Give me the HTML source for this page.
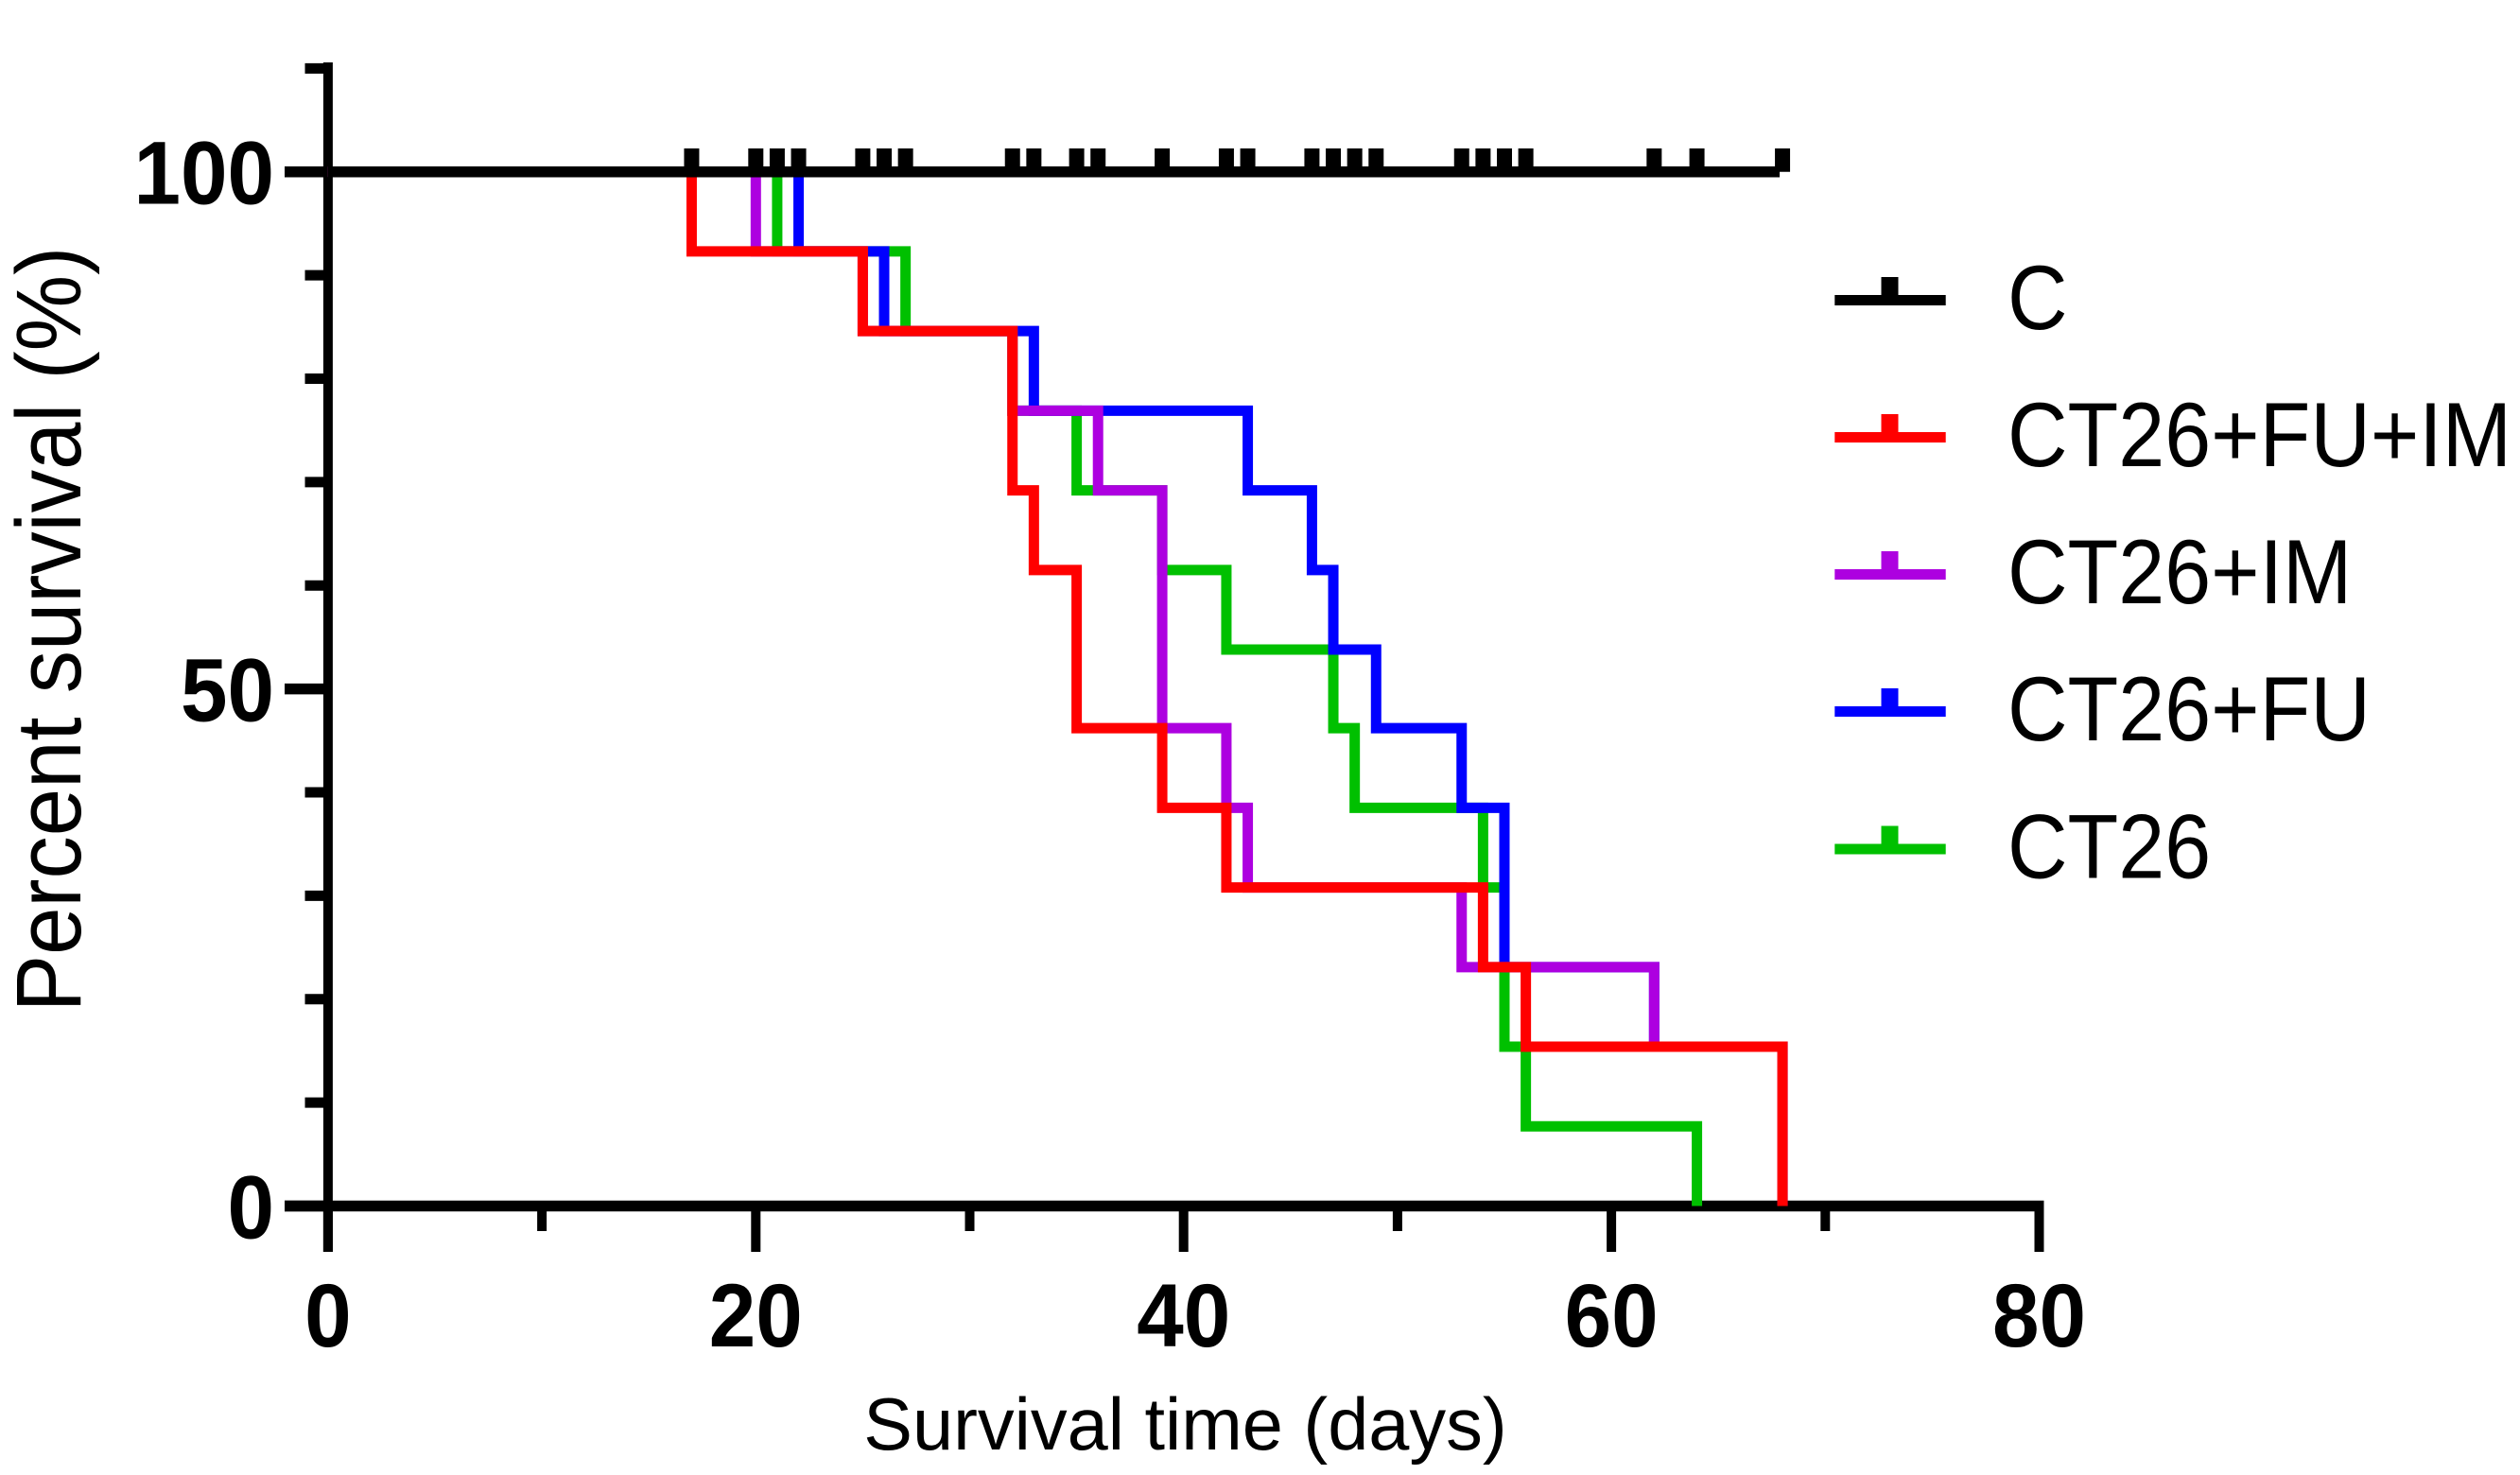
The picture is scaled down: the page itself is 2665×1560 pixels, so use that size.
<!DOCTYPE html>
<html>
<head>
<meta charset="utf-8">
<title>Survival chart</title>
<style>
html,body{margin:0;padding:0;background:#fff;}
svg{display:block;}
text{font-family:"Liberation Sans",Arial,sans-serif;fill:#000;}
.tick{font-weight:bold;font-size:89px;}
.legend-label{font-size:88px;}
</style>
</head>
<body>
<svg id="chart" width="2665" height="1560" viewBox="0 0 2665 1560" xmlns="http://www.w3.org/2000/svg">
  <rect x="0" y="0" width="2665" height="1560" fill="#fff"/>
  <g id="axes"></g>
  <g id="series"></g>
  <text x="1253.5" y="1533" font-size="77.5" text-anchor="middle">Survival time (days)</text>
  <text transform="translate(85,665.5) rotate(-90) scale(1,1.08)" font-size="90.5" text-anchor="middle">Percent survival (%)</text>
  <g>
    <g>
      <rect x="1940.3" y="312" width="117.4" height="11" fill="#000"/>
      <rect x="1989.5" y="293" width="18" height="22" fill="#000"/>
      <text class="legend-label" transform="translate(2123,348) scale(1,1.1)">C</text>
    </g>
    <g>
      <rect x="1940.3" y="457" width="117.4" height="11" fill="#ff0000"/>
      <rect x="1989.5" y="438" width="18" height="22" fill="#ff0000"/>
      <text class="legend-label" transform="translate(2123,493) scale(1,1.1)">CT26+FU+IM</text>
    </g>
    <g>
      <rect x="1940.3" y="602" width="117.4" height="11" fill="#ad00e0"/>
      <rect x="1989.5" y="583" width="18" height="22" fill="#ad00e0"/>
      <text class="legend-label" transform="translate(2123,638) scale(1,1.1)">CT26+IM</text>
    </g>
    <g>
      <rect x="1940.3" y="747" width="117.4" height="11" fill="#0000ff"/>
      <rect x="1989.5" y="728" width="18" height="22" fill="#0000ff"/>
      <text class="legend-label" transform="translate(2123,783) scale(1,1.1)">CT26+FU</text>
    </g>
    <g>
      <rect x="1940.3" y="892.5" width="117.4" height="11" fill="#00c000"/>
      <rect x="1989.5" y="873.5" width="18" height="22" fill="#00c000"/>
      <text class="legend-label" transform="translate(2123,928.5) scale(1,1.1)">CT26</text>
    </g>
  </g>
</svg>
<script>
var xMajorTicks = [0, 20, 40, 60, 80];
var xMinorTicks = [10, 30, 50, 70];
var yMajorTicks = [0, 50, 100];
var yMinorTicks = [10, 20, 30, 40, 60, 70, 80, 90, 110];

var controlCensorTimes = [17, 20, 21, 22, 25, 26, 27, 32, 33, 35, 36, 39, 42, 43, 46, 47, 48, 49, 53, 54, 55, 56, 62, 64, 68];
var controlEndTime = 68;

var ct26Times = [21, 27, 32, 35, 39, 42, 47, 48, 54, 55, 56, 64];
var ct26Survival = [92.3, 84.6, 76.9, 69.2, 61.5, 53.8, 46.2, 38.5, 30.8, 15.4, 7.7, 0];

var ct26FuTimes = [22, 26, 33, 43, 46, 47, 49, 53, 55, 62, 68];
var ct26FuSurvival = [92.3, 84.6, 76.9, 69.2, 61.5, 53.8, 46.2, 38.5, 23.1, 15.4, 0];

var ct26ImTimes = [20, 25, 32, 36, 39, 42, 43, 53, 62, 68];
var ct26ImSurvival = [92.3, 84.6, 76.9, 69.2, 46.2, 38.5, 30.8, 23.1, 15.4, 0];

var ct26FuImTimes = [17, 25, 32, 33, 35, 39, 42, 54, 56, 68];
var ct26FuImSurvival = [92.3, 84.6, 69.2, 61.5, 46.2, 38.5, 30.8, 23.1, 15.4, 0];

var NS = 'http://www.w3.org/2000/svg';
function xScale(t) { return 346.9 + t * 22.62; }
function yScale(v) { return 1275.5 - v * 10.938; }

function line(parent, x1, y1, x2, y2, color, width) {
  var el = document.createElementNS(NS, 'line');
  el.setAttribute('x1', x1);
  el.setAttribute('y1', y1);
  el.setAttribute('x2', x2);
  el.setAttribute('y2', y2);
  el.setAttribute('stroke', color);
  el.setAttribute('stroke-width', width);
  parent.appendChild(el);
  return el;
}

var axes = document.getElementById('axes');
var seriesGroup = document.getElementById('series');

var yAxisLine = line(axes, xScale(0), 66, xScale(0), 1324, '#000', 10);



var xAxisLine = line(axes, 301, yScale(0), xScale(80) + 5, yScale(0), '#000', 11.5);



xMajorTicks.forEach(function (t) {
  var tick = line(axes, xScale(t), yScale(0), xScale(t), 1324, '#000', 10);
  
  
  var label = document.createElementNS(NS, 'text');
  
  
  label.setAttribute('class', 'tick');
  label.setAttribute('transform', 'translate(' + xScale(t) + ',1424) scale(1,1.06)');
  label.setAttribute('text-anchor', 'middle');
  label.textContent = String(t);
  axes.appendChild(label);
});

xMinorTicks.forEach(function (t) {
  var tick = line(axes, xScale(t), yScale(0), xScale(t), 1302, '#000', 10);
  
  
});

yMajorTicks.forEach(function (v) {
  var tick = line(axes, 301, yScale(v), xScale(0), yScale(v), '#000', 11.5);
  
  
  var label = document.createElementNS(NS, 'text');
  
  
  label.setAttribute('class', 'tick');
  label.setAttribute('transform', 'translate(290,' + (yScale(v) + 34) + ') scale(1,1.06)');
  label.setAttribute('text-anchor', 'end');
  label.textContent = String(v);
  axes.appendChild(label);
});

yMinorTicks.forEach(function (v) {
  var tick = line(axes, 322.5, yScale(v), xScale(0), yScale(v), '#000', 11);
  
  
});

function stepPath(times, survival) {
  var d = 'M' + xScale(0) + ' ' + yScale(100);
  for (var i = 0; i < times.length; i++) {
    d += ' H' + xScale(times[i]) + ' V' + yScale(survival[i]);
  }
  return d;
}

function drawSeries(times, survival, color) {
  var path = document.createElementNS(NS, 'path');
  path.setAttribute('d', stepPath(times, survival));
  path.setAttribute('fill', 'none');
  path.setAttribute('stroke', color);
  path.setAttribute('stroke-width', 11);
  path.setAttribute('stroke-linejoin', 'miter');
  seriesGroup.appendChild(path);
  return path;
}

var greenPath = drawSeries(ct26Times, ct26Survival, '#00c000');



var bluePath = drawSeries(ct26FuTimes, ct26FuSurvival, '#0000ff');



var purplePath = drawSeries(ct26ImTimes, ct26ImSurvival, '#ad00e0');



var redPath = drawSeries(ct26FuImTimes, ct26FuImSurvival, '#ff0000');



var controlLine = line(seriesGroup, xScale(0), yScale(100), xScale(controlEndTime) - 3, yScale(100), '#000', 11.5);



controlCensorTimes.forEach(function (t) {
  var mark = line(seriesGroup, xScale(t), 157, xScale(t), yScale(100), '#000', 16);
  
  
});
</script>
</body>
</html>
